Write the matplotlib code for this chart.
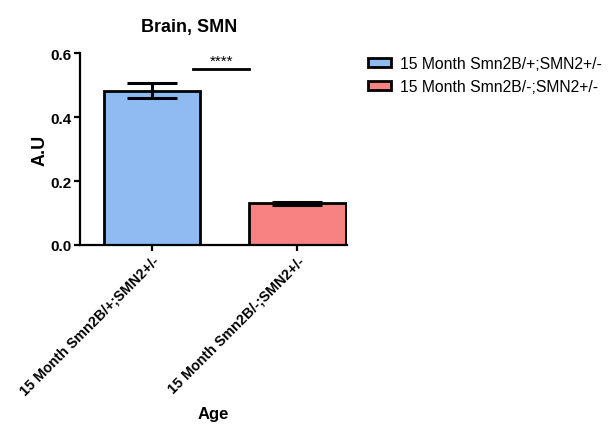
import matplotlib.pyplot as plt

plt.rcParams['font.family'] = ['Liberation Sans', 'DejaVu Sans']

# valores de la grafica
grupos = ['15 Month Smn2B/+;SMN2+/-', '15 Month Smn2B/-;SMN2+/-']
medias = [0.482, 0.130]
errores = [0.024, 0.005]
colores = ['#8fbbf2', '#f78282']
significancia = '****'
y_signif = 0.55


def graficar_barras():
    fig = plt.figure(figsize=(6.08, 4.27), dpi=100)
    ax = fig.add_axes([0.1316, 0.4239, 0.4391, 0.4496])

    x = range(len(grupos))
    barras = ax.bar(x, medias, width=0.66, color=colores, edgecolor='black',
                    linewidth=2, label=grupos, zorder=2)
    ax.errorbar(x, medias, yerr=errores, fmt='none', ecolor='black',
                elinewidth=2.2, capsize=18, capthick=2.2, zorder=3)

    # linea de significancia entre los grupos
    ax.plot([0.285, 0.67], [y_signif, y_signif], color='black', lw=2)
    ax.text(0.477, y_signif + 0.004, significancia, ha='center', va='bottom',
            fontsize=11)

    ax.set_xlim(-0.493, 1.34)
    ax.set_ylim(0, 0.6)
    ax.set_yticks([0.0, 0.2, 0.4, 0.6])
    ax.set_yticklabels(['0.0', '0.2', '0.4', '0.6'], fontweight='bold', fontsize=11)
    ax.set_xticks(list(x))
    ax.set_xticklabels(grupos, rotation=45, ha='right', rotation_mode='anchor',
                       fontweight='bold', fontsize=10.3)

    for lado in ['top', 'right']:
        ax.spines[lado].set_visible(False)
    for lado in ['left', 'bottom']:
        ax.spines[lado].set_linewidth(1.6)
    ax.tick_params(width=1.6, length=4, pad=2)

    ax.set_title('Brain, SMN', fontweight='bold', fontsize=13, pad=16, x=0.41)
    ax.set_ylabel('A.U', fontweight='bold', fontsize=13, labelpad=1)
    ax.set_xlabel('Age', fontweight='bold', fontsize=12, labelpad=6)

    fig.legend(handles=barras, labels=grupos, loc='upper left',
               bbox_to_anchor=(0.592, 0.885), frameon=False, fontsize=11.3,
               handlelength=1.45, handleheight=0.5, handletextpad=0.6,
               labelspacing=0.5, borderpad=0)

    fig.savefig('out.png', dpi=100, facecolor='white')


def main():
    graficar_barras()


if __name__ == "__main__":
    main()
